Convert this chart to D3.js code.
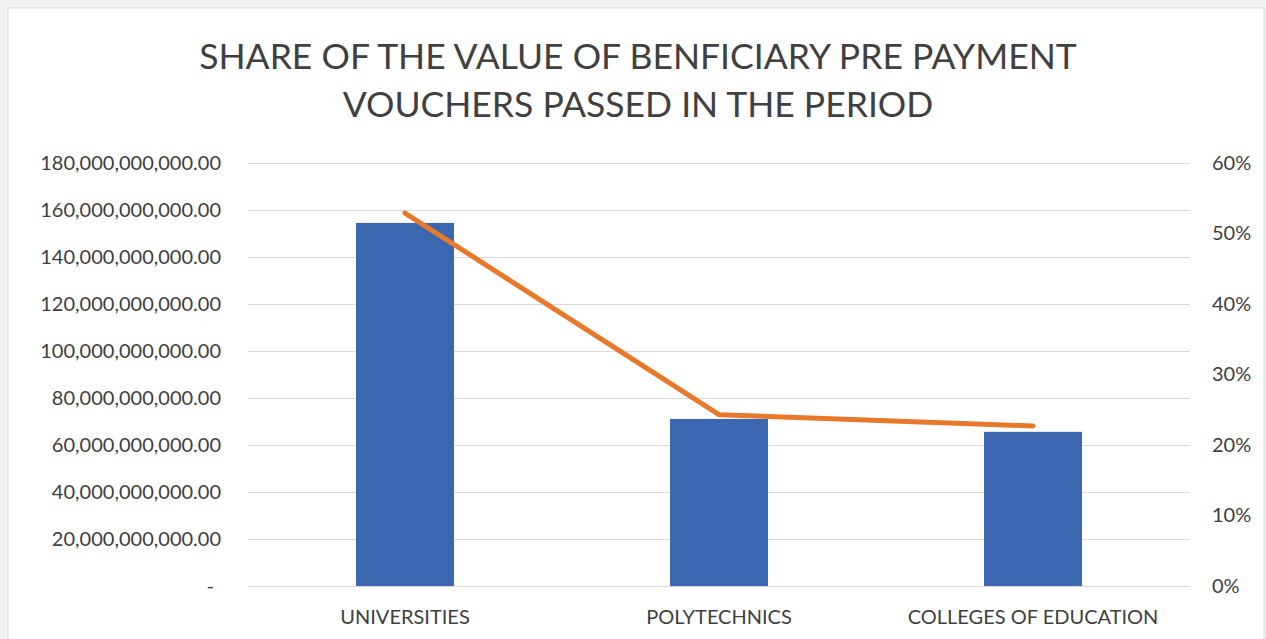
<!DOCTYPE html>
<html><head><meta charset="utf-8">
<script src="https://cdn.jsdelivr.net/npm/d3@7"></script>
<style>
html,body{margin:0;padding:0;background:#f2f2f2;}
svg{display:block;}
text{font-family:Lato,"Open Sans",sans-serif;}
</style></head>
<body>
<svg id="chart" width="1266" height="639"></svg>
<script>
const titleLines = ["SHARE OF THE VALUE OF BENFICIARY PRE PAYMENT", "VOUCHERS PASSED IN THE PERIOD"];
const categories = ["UNIVERSITIES", "POLYTECHNICS", "COLLEGES OF EDUCATION"];
const values = [154500000000, 71100000000, 65600000000];
const shares = [0.529, 0.243, 0.227];
const leftTicks = [0, 20e9, 40e9, 60e9, 80e9, 100e9, 120e9, 140e9, 160e9, 180e9];
const rightTicks = [0, 0.1, 0.2, 0.3, 0.4, 0.5, 0.6];

const svg = d3.select("#chart");
svg.append("rect").attr("x", 8).attr("y", 8).attr("width", 1256).attr("height", 640)
  .attr("fill", "#ffffff").attr("stroke", "#d9d9d9");

const m = {left: 248, right: 1190, top: 163, bottom: 586};
const x = d3.scaleBand().domain(categories).range([m.left, m.right]).paddingInner(0.688).paddingOuter(0.344);
const y = d3.scaleLinear().domain([0, 180e9]).range([m.bottom, m.top]);
const y2 = d3.scaleLinear().domain([0, 0.6]).range([m.bottom, m.top]);
const fs = 20;
const ff = "Lato, 'Open Sans', sans-serif";

// title
const t = svg.append("text").attr("x", 638).attr("text-anchor", "middle")
  .attr("fill", "#404040").attr("font-size", 35.5);
titleLines.forEach((l, i) => t.append("tspan").attr("x", 638).attr("y", 69 + i * 48).text(l));

// gridlines + left axis
const fmt = d => d === 0 ? "-" : d3.format(",.2f")(d);
const gl = svg.append("g").attr("transform", `translate(${m.left},0)`)
  .call(d3.axisLeft(y).tickValues(leftTicks).tickSize(-(m.right - m.left)).tickFormat(fmt).tickPadding(27));
gl.select(".domain").remove();
gl.selectAll(".tick line").attr("stroke", "#d9d9d9").attr("stroke-width", 1.2);
gl.selectAll(".tick text").attr("fill", "#404040").attr("font-size", fs).attr("font-family", ff);
gl.selectAll(".tick").filter(d => d === 0).select("text").attr("dx", -7);

// right axis
const gr = svg.append("g").attr("transform", `translate(${m.right},0)`)
  .call(d3.axisRight(y2).tickValues(rightTicks).tickSize(0).tickFormat(d3.format(".0%")).tickPadding(22));
gr.select(".domain").remove();
gr.selectAll(".tick text").attr("fill", "#404040").attr("font-size", fs).attr("font-family", ff);

// bars
svg.append("g").selectAll("rect").data(categories).join("rect")
  .attr("x", d => x(d)).attr("width", x.bandwidth())
  .attr("y", (d, i) => y(values[i])).attr("height", (d, i) => y(0) - y(values[i]))
  .attr("fill", "#3a67b0");

// bottom axis labels
const gb = svg.append("g").attr("transform", `translate(0,${m.bottom})`)
  .call(d3.axisBottom(x).tickSize(0).tickPadding(24));
gb.select(".domain").remove();
gb.selectAll(".tick text").attr("fill", "#404040").attr("font-size", fs).attr("font-family", ff);

// line
const line = d3.line().x((d, i) => x(categories[i]) + x.bandwidth() / 2).y(d => y2(d));
svg.append("path").datum(shares).attr("d", line).attr("fill", "none")
  .attr("stroke", "#e8782a").attr("stroke-width", 5).attr("stroke-linecap", "round").attr("stroke-linejoin", "round");
</script>
</body></html>
